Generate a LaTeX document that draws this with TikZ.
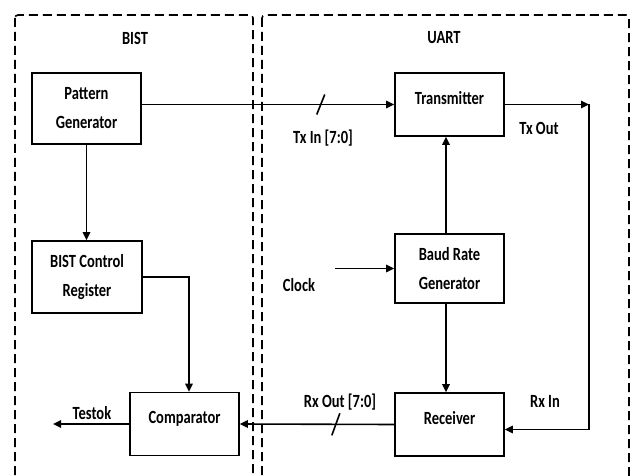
\documentclass[tikz,border=0pt]{standalone}
\usepackage{fontspec}
\newfontfamily\diagfont{Carlito}[FakeStretch=0.78]
\usetikzlibrary{arrows.meta}

\begin{document}
\begin{tikzpicture}[x=1pt, y=-1pt, line width=1.6pt,
		every node/.style={font=\diagfont\bfseries\fontsize{18.6}{29}\selectfont},
		blk/.style={draw, minimum width=109, minimum height=63, align=center},
		oneline/.style={text depth=13pt},
		zone/.style={draw, dashed, dash pattern=on 9pt off 5pt, rounded corners=3pt},
		arr/.style={-{Triangle[length=8pt, width=7.5pt]}},
		buslbl/.style={inner sep=0pt}]
	\useasboundingbox (0,0) rectangle (632,476);
	\clip (0,0) rectangle (632,476);

	% dashed regions
	\draw[zone] (15,15) rectangle (253,520);
	\draw[zone] (262,15) rectangle (629,520);
	\node (bist) at (135,38) {BIST};
	\node (uart) at (444,38) {UART};

	% BIST blocks
	\node[blk, minimum height=71] (pg) at (86.5,108.5) {Pattern\\Generator};
	\node[blk, minimum width=110, minimum height=72] (bcr) at (87,277) {BIST Control\\Register};
	\node[blk, oneline] (cmp) at (184.5,424) {Comparator};

	% UART blocks
	\node[blk, oneline] (tx) at (449.5,104.5) {Transmitter};
	\node[blk, minimum height=69] (baud) at (449.5,268.5) {Baud Rate\\Generator};
	\node[blk, oneline] (rx) at (449.5,424.5) {Receiver};

	\coordinate (clk) at (335,268.5);
	\coordinate (txc) at (589,104.5);
	\coordinate (tok) at (53,424);

	% connections
	\draw[arr] (pg.east |- tx.west) -- coordinate[pos=0.709] (s1) (tx.west);
	\draw ([shift={(-4,10)}]s1) -- ([shift={(4,-10)}]s1);
	\draw[arr] (pg.south) -- (pg.south |- bcr.north);
	\draw[arr] (bcr.east) -| ([xshift=4.5]cmp.north);
	\draw[arr] (cmp.west) -- (tok);
	\draw[arr] (rx.west) -- coordinate[pos=0.378] (s2) (cmp.east);
	\draw ([shift={(-4,11)}]s2) -- ([shift={(4,-11)}]s2);
	\draw[arr] (tx.east) -- (txc);
	\draw[arr] (txc) |- ([yshift=-5]rx.east);
	\draw[arr] (clk) -- (baud.west);
	\draw[arr] ([xshift=-3.5]baud.north) -- ([xshift=-3.5]tx.south);
	\draw[arr] ([xshift=-3.5]baud.south) -- ([xshift=-3.5]rx.north);

	% signal labels
	\node (txin) at (323,138) {Tx In [7:0]};
	\node (txout) at (539,128) {Tx Out};
	\node (clock) at (299,285) {Clock};
	\node (rxin) at (545,401) {Rx In};
	\node (rxout) at (340,402) {Rx Out [7:0]};
	\node (testok) at (92,413) {Testok};
\end{tikzpicture}
\end{document}
